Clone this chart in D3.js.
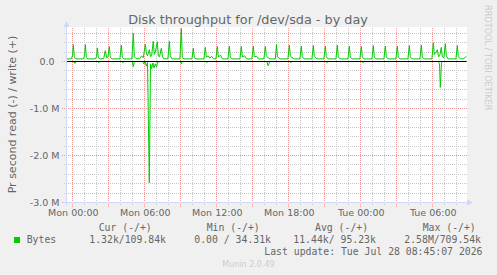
<!DOCTYPE html>
<html>
<head>
<meta charset="utf-8">
<script src="https://cdn.jsdelivr.net/npm/d3@7"></script>
<style>
  html, body { margin: 0; padding: 0; background: #f0f0f0; }
  svg { display: block; }
  text { fill: #666; }
  .mono { font-family: "DejaVu Sans Mono", monospace; font-size: 9.8px; white-space: pre; }
</style>
</head>
<body>
<svg id="chart" width="497" height="275"></svg>
<script>
// write (+) samples: [hours since Mon 00:00, MB/s]
const writeData = [
  [-0.5, 0.055], [-0.1, 0.055], [0.0, 0.12], [0.07, 0.36], [0.15, 0.1], [0.25, 0.055],
  [0.9, 0.055], [1.0, 0.12], [1.07, 0.36], [1.15, 0.09], [1.25, 0.055],
  [1.9, 0.055], [2.0, 0.1], [2.07, 0.29], [2.15, 0.08], [2.3, 0.055], [2.6, 0.06], [2.73, 0.23],
  [2.85, 0.08], [2.95, 0.1], [3.07, 0.32], [3.15, 0.09], [3.3, 0.055],
  [3.95, 0.055], [4.07, 0.35], [4.15, 0.09], [4.3, 0.055],
  [4.95, 0.055], [5.07, 0.6], [5.15, 0.1], [5.3, 0.06],
  [5.6, 0.06], [5.75, 0.12], [5.9, 0.08], [6.07, 0.37], [6.15, 0.18], [6.25, 0.12], [6.4, 0.25],
  [6.5, 0.1], [6.6, 0.14], [6.73, 0.43], [6.82, 0.15], [6.9, 0.2], [7.07, 0.42], [7.15, 0.12],
  [7.25, 0.1], [7.4, 0.28], [7.5, 0.1], [7.6, 0.06],
  [7.95, 0.055], [8.07, 0.43], [8.15, 0.12], [8.3, 0.055],
  [8.95, 0.055], [9.07, 0.7], [9.15, 0.08], [9.3, 0.055],
  [9.95, 0.055], [10.07, 0.28], [10.15, 0.08], [10.3, 0.055],
  [10.95, 0.055], [11.07, 0.3], [11.15, 0.09], [11.3, 0.12], [11.45, 0.07], [11.6, 0.11], [11.75, 0.06],
  [11.95, 0.055], [12.07, 0.32], [12.15, 0.1], [12.35, 0.13], [12.5, 0.055],
  [12.95, 0.055], [13.07, 0.33], [13.15, 0.09], [13.3, 0.055],
  [13.95, 0.055], [14.07, 0.32], [14.15, 0.1], [14.35, 0.12], [14.5, 0.055],
  [14.95, 0.055], [15.07, 0.33], [15.15, 0.1], [15.35, 0.11], [15.5, 0.055],
  [15.95, 0.055], [16.07, 0.32], [16.15, 0.12], [16.3, 0.08], [16.45, 0.055],
  [16.9, 0.055], [17.0, 0.36], [17.08, 0.1], [17.3, 0.055],
  [17.95, 0.055], [18.07, 0.35], [18.15, 0.12], [18.3, 0.08], [18.45, 0.055],
  [18.95, 0.055], [19.07, 0.33], [19.15, 0.1], [19.3, 0.055],
  [19.95, 0.055], [20.07, 0.34], [20.15, 0.11], [20.3, 0.07], [20.45, 0.055],
  [20.95, 0.055], [21.07, 0.33], [21.15, 0.1], [21.3, 0.055],
  [21.95, 0.055], [22.07, 0.35], [22.15, 0.1], [22.3, 0.055],
  [22.95, 0.055], [23.07, 0.33], [23.15, 0.09], [23.3, 0.055],
  [23.95, 0.055], [24.07, 0.32], [24.15, 0.1], [24.3, 0.055],
  [24.95, 0.055], [25.07, 0.34], [25.15, 0.09], [25.3, 0.055],
  [25.95, 0.055], [26.07, 0.33], [26.15, 0.1], [26.3, 0.055],
  [26.95, 0.055], [27.07, 0.33], [27.15, 0.09], [27.3, 0.055],
  [27.95, 0.055], [28.07, 0.34], [28.15, 0.1], [28.3, 0.055],
  [28.95, 0.055], [29.07, 0.35], [29.15, 0.09], [29.3, 0.055],
  [29.95, 0.055], [30.07, 0.4], [30.15, 0.15], [30.25, 0.18], [30.4, 0.25], [30.5, 0.1], [30.6, 0.12],
  [30.73, 0.3], [30.82, 0.1], [30.95, 0.08], [31.07, 0.38], [31.15, 0.12], [31.3, 0.055],
  [31.95, 0.055], [32.07, 0.34], [32.15, 0.1], [32.35, 0.055], [32.6, 0.06], [32.83, 0.11]
];

// read (-) samples, drawn below zero
const readData = [
  [-0.5, 0], [0.1, 0], [0.2, -0.04], [0.3, 0],
  [2.1, 0], [2.2, -0.02], [2.3, 0],
  [4.1, 0], [4.2, -0.02], [4.3, 0],
  [4.98, 0], [5.07, -0.11], [5.15, 0],
  [5.85, 0], [5.95, -0.05], [6.05, 0], [6.15, -0.1], [6.25, -0.02], [6.4, -2.58], [6.5, -0.05],
  [6.6, -0.15], [6.7, -0.03], [6.8, -0.14], [6.9, -0.05], [7.0, -0.12], [7.1, -0.01], [7.3, 0],
  [8.98, 0], [9.07, -0.05], [9.15, 0],
  [11.1, 0], [11.2, -0.02], [11.3, 0],
  [16.2, 0], [16.3, -0.09], [16.4, -0.03], [16.5, 0],
  [18.1, 0], [18.2, -0.02], [18.3, 0],
  [21.1, 0], [21.2, -0.02], [21.3, 0],
  [24.1, 0], [24.2, -0.02], [24.3, 0],
  [30.5, 0], [30.58, -0.05], [30.65, -0.55], [30.75, -0.02], [30.85, 0],
  [32.83, 0]
];

const yMajorTicks = [-3, -2, -1, 0];
const legendHeaders = ["Cur (-/+)", "Min (-/+)", "Avg (-/+)", "Max (-/+)"];
const legendValues = ["1.32k/109.84k", "0.00 / 34.31k", "11.44k/ 95.23k", "2.58M/709.54k"];
const seriesName = "Bytes";
const lastUpdate = "Last update: Tue Jul 28 08:45:07 2026";

const svg = d3.select("#chart");
const baseTime = new Date(2026, 6, 27, 0, 0);
const toDate = h => new Date(baseTime.getTime() + h * 3600e3);

const x = d3.scaleTime()
  .domain([new Date(2026, 6, 26, 23, 30), new Date(2026, 6, 28, 8, 50)])
  .range([66.5, 466.5]);
const y = d3.scaleLinear().domain([-3, 0.7447]).range([202.5, 26.5]);
const px = v => Math.round(v - 0.5); // pixel column/row a 1px line sits on

const pLeft = 66.5, pRight = 466.5, pBottom = 202.5;

// dotted patterns (one pixel on, one off)
const defs = svg.append("defs");
[["vGrey", 1, 2, "#c8c8c8"], ["hGrey", 2, 1, "#c8c8c8"],
 ["vRed", 1, 2, "#ee9898"], ["hRed", 2, 1, "#ee9898"]].forEach(([id, w, h, c]) => {
  defs.append("pattern").attr("id", id).attr("patternUnits", "userSpaceOnUse")
    .attr("width", w).attr("height", h)
    .append("rect").attr("width", 1).attr("height", 1).attr("fill", c);
});

// canvas
svg.append("rect").attr("x", 67).attr("y", 27).attr("width", 400).attr("height", 176).attr("fill", "#fff");

// minor grid
const minorY = y.ticks(20).filter(v => !yMajorTicks.includes(v));
svg.append("g").selectAll("rect").data(minorY).join("rect")
  .attr("x", 64).attr("width", 403)
  .attr("y", d => px(y(d))).attr("height", 1)
  .attr("fill", "url(#hGrey)");
const minorX = x.ticks(d3.timeHour.every(1)).filter(d => d.getHours() % 3 !== 0);
svg.append("g").selectAll("rect").data(minorX).join("rect")
  .attr("x", d => px(x(d))).attr("width", 1)
  .attr("y", 27).attr("height", 178)
  .attr("fill", "url(#vGrey)");

// major grid
svg.append("g").selectAll("rect").data(yMajorTicks).join("rect")
  .attr("x", 62).attr("width", 405)
  .attr("y", d => px(y(d))).attr("height", 1)
  .attr("fill", "url(#hRed)");
const majorX = x.ticks(d3.timeHour.every(3));
svg.append("g").selectAll("rect").data(majorX).join("rect")
  .attr("x", d => px(x(d))).attr("width", 1)
  .attr("y", 27).attr("height", 180)
  .attr("fill", "url(#vRed)");

// data lines
const line = d3.line().x(d => x(toDate(d[0]))).y(d => y(d[1]));
svg.append("path").datum(readData).attr("d", line)
  .attr("fill", "none").attr("stroke", "#00cc00").attr("stroke-width", 1);
svg.append("path").datum(writeData).attr("d", line)
  .attr("fill", "none").attr("stroke", "#00cc00").attr("stroke-width", 1);

// zero rule
svg.append("line").attr("x1", pLeft).attr("x2", pRight)
  .attr("y1", px(y(0)) + 0.5).attr("y2", px(y(0)) + 0.5)
  .attr("stroke", "#000").attr("stroke-width", 1);

// axes + arrows
svg.append("line").attr("x1", pLeft).attr("x2", pLeft).attr("y1", pBottom + 3).attr("y2", 22)
  .attr("stroke", "#cfd6f8");
svg.append("path").attr("d", `M${pLeft - 3},27 L${pLeft + 3},27 L${pLeft},21 Z`).attr("fill", "#cfd6f8");
svg.append("line").attr("x1", pLeft - 3).attr("x2", pRight + 1).attr("y1", pBottom).attr("y2", pBottom)
  .attr("stroke", "#cfd6f8");
svg.append("path").attr("d", `M467,${pBottom - 3} L467,${pBottom + 3} L473,${pBottom} Z`).attr("fill", "#cfd6f8");

// y tick labels
svg.append("g").selectAll("text").data(yMajorTicks).join("text")
  .attr("x", d => d === 0 ? 54.5 : 59.5)
  .attr("y", d => y(d) + 3.5)
  .attr("text-anchor", "end")
  .style("font-family", "DejaVu Sans").style("font-size", "9.5px")
  .text(d => d === 0 ? "0.0" : d3.format(".1f")(d).replace("−", "-") + " M");

// x tick labels
const fmt = d3.timeFormat("%a %H:%M");
svg.append("g").selectAll("text").data(x.ticks(d3.timeHour.every(6))).join("text")
  .attr("x", d => x(d) + 0.8)
  .attr("y", 216)
  .attr("text-anchor", "middle")
  .style("font-family", "DejaVu Sans").style("font-size", "9.5px")
  .text(fmt);

// title
svg.append("text").attr("x", 248).attr("y", 24).attr("text-anchor", "middle")
  .style("font-family", "DejaVu Sans").style("font-size", "12.8px")
  .text("Disk throughput for /dev/sda - by day");

// y axis title
svg.append("text").attr("transform", "translate(15.5,114.5) rotate(-90)")
  .attr("text-anchor", "middle")
  .style("font-family", "DejaVu Sans").style("font-size", "11px")
  .text("Pr second read (-) / write (+)");

// watermark
svg.append("text").attr("transform", "translate(485,5) rotate(90)")
  .style("font-family", "DejaVu Sans").style("font-size", "8.2px").style("fill", "#ccc")
  .text("RRDTOOL / TOBI OETIKER");

// legend
const headerX = [98.7, 206.7, 315, 422.7];
const valueX = [89.3, 194.3, 293.3, 404.3];
svg.append("g").selectAll("text").data(legendHeaders).join("text")
  .attr("class", "mono").attr("x", (d, i) => headerX[i]).attr("y", 230.5).text(d => d);
svg.append("rect").attr("x", 14).attr("y", 237).attr("width", 6).attr("height", 6).attr("fill", "#00cc00");
svg.append("text").attr("class", "mono").attr("x", 26.7).attr("y", 243).text(seriesName);
svg.append("g").selectAll("text").data(legendValues).join("text")
  .attr("class", "mono").attr("x", (d, i) => valueX[i]).attr("y", 243).text(d => d);
svg.append("text").attr("class", "mono").attr("x", 482.5).attr("y", 255)
  .attr("text-anchor", "end").text(lastUpdate);

svg.append("text").attr("x", 248.5).attr("y", 266.5).attr("text-anchor", "middle")
  .style("font-family", "DejaVu Sans").style("font-size", "8px").style("fill", "#ccc")
  .text("Munin 2.0.49");
</script>
</body>
</html>
